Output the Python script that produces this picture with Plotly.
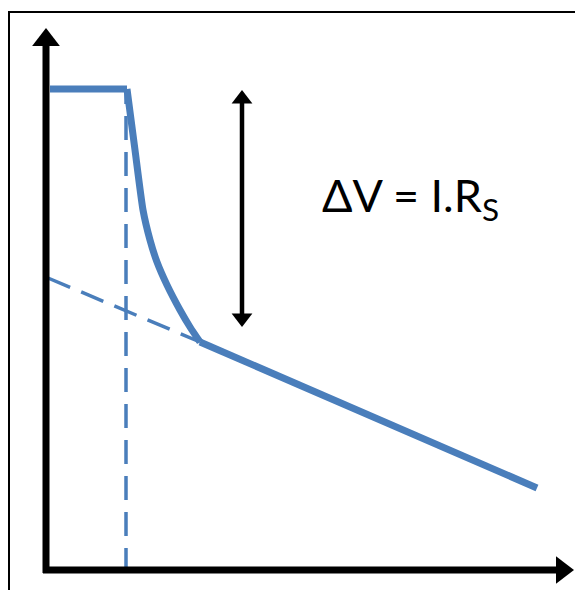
import plotly.graph_objects as go

# diagram coordinates: origin at the corner of the axes, units ~ pixels
plateau_x = [4, 81]
plateau_y = [481, 481]

drop_x = [81, 89, 97, 104, 111, 121, 134, 144, 154]
drop_y = [481, 420, 360, 330, 308, 285, 260, 243, 228]

slope_x = [154, 491]
slope_y = [228, 82]

extrap_x = [2, 154]
extrap_y = [292, 228]

vline_x = [80, 80]
vline_y = [-2, 478]

yaxis_x = [0, 0]
yaxis_y = [-3, 530]
xaxis_x = [-3, 516]
xaxis_y = [0, 0]

dv_x = [196, 196]
dv_y = [252, 471]

label_pos = (364, 372)
label_text = "ΔV = I.R<sub>S</sub>"

blue = "#4a7ebb"

fig = go.Figure()

fig.add_trace(go.Scatter(x=extrap_x, y=extrap_y, mode="lines",
                         line=dict(color=blue, width=3.5, dash="24px,12px")))
fig.add_trace(go.Scatter(x=vline_x, y=vline_y, mode="lines",
                         line=dict(color=blue, width=3.5, dash="24px,12px")))

# main curve: plateau, steep drop, then the linear part
fig.add_trace(go.Scatter(x=plateau_x, y=plateau_y, mode="lines",
                         line=dict(color=blue, width=7)))
fig.add_trace(go.Scatter(x=drop_x, y=drop_y, mode="lines",
                         line=dict(color=blue, width=7, shape="spline", smoothing=0.5)))
fig.add_trace(go.Scatter(x=slope_x, y=slope_y, mode="lines",
                         line=dict(color=blue, width=7)))

# axes with arrow heads
fig.add_trace(go.Scatter(x=yaxis_x, y=yaxis_y, mode="lines",
                         line=dict(color="black", width=7)))
fig.add_trace(go.Scatter(x=xaxis_x, y=xaxis_y, mode="lines",
                         line=dict(color="black", width=7)))
fig.add_trace(go.Scatter(x=[yaxis_x[1]], y=[yaxis_y[1]], mode="markers",
                         marker=dict(symbol="triangle-up", size=24, color="black")))
fig.add_trace(go.Scatter(x=[xaxis_x[1]], y=[xaxis_y[1]], mode="markers",
                         marker=dict(symbol="triangle-right", size=24, color="black")))

# double arrow for delta V
fig.add_trace(go.Scatter(x=dv_x, y=dv_y, mode="lines",
                         line=dict(color="black", width=4.5)))
fig.add_trace(go.Scatter(x=[dv_x[1]], y=[dv_y[1]], mode="markers",
                         marker=dict(symbol="triangle-up", size=18, color="black")))
fig.add_trace(go.Scatter(x=[dv_x[0]], y=[dv_y[0]], mode="markers",
                         marker=dict(symbol="triangle-down", size=18, color="black")))

fig.add_annotation(x=label_pos[0], y=label_pos[1], xref="x", yref="y", showarrow=False,
                   text=label_text, font=dict(family="Lato", size=45, color="black"))

# outer frame
fig.add_shape(type="rect", xref="paper", yref="paper",
              x0=1 / 583, x1=1.02, y0=-0.05, y1=1 - 4 / 590,
              line=dict(color="black", width=2))

fig.update_layout(
    width=583, height=590,
    margin=dict(l=0, r=0, t=0, b=0),
    paper_bgcolor="white", plot_bgcolor="white",
    showlegend=False,
    xaxis=dict(range=[-38, 545], visible=False, fixedrange=True),
    yaxis=dict(range=[-28, 562], visible=False, fixedrange=True),
)

fig.write_html("out.html")
